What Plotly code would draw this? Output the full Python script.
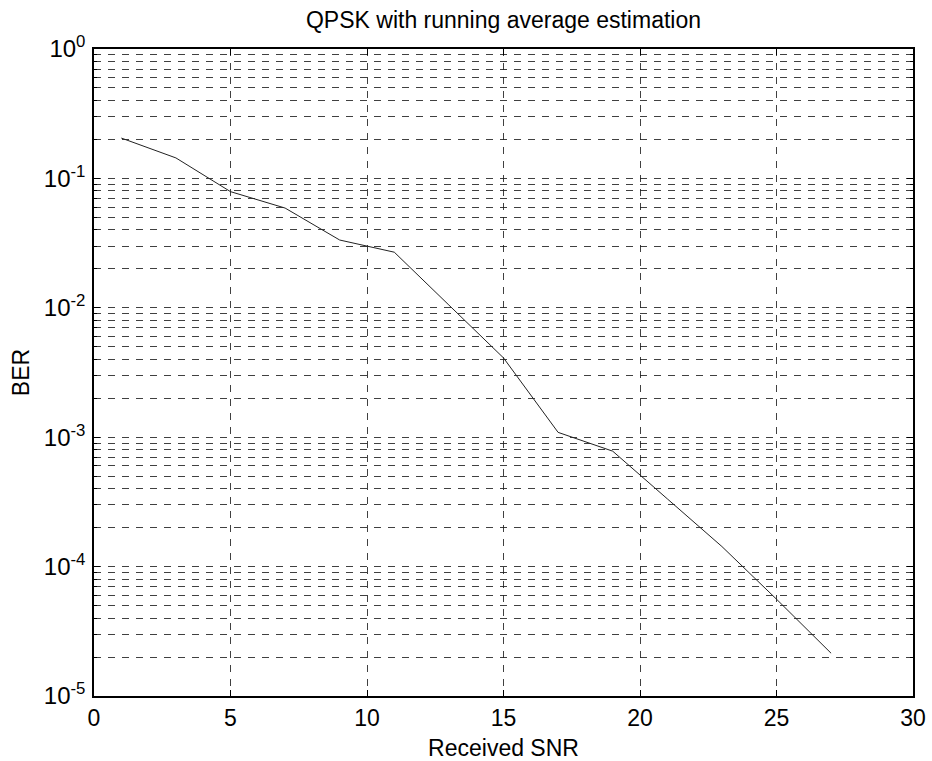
import plotly.graph_objects as go

# Data
snr = [1, 3, 5, 7, 9, 11, 13, 15, 17, 19, 21, 23, 25, 27]
ber = [0.205, 0.144, 0.079, 0.059, 0.0334, 0.0269, 0.0105, 0.0041,
       0.00109, 0.00078, 0.000334, 0.000143, 0.000056, 0.0000214]

x_ticks = [0, 5, 10, 15, 20, 25, 30]
y_exps = [-5, -4, -3, -2, -1, 0]
y_tickvals = [10.0 ** e for e in y_exps]
y_ticktext = ["10<sup>%d</sup>" % e for e in y_exps]
y_minor = [d * 10.0 ** e for e in range(-5, 0) for d in range(2, 10)]

FONT = "Liberation Sans, Arial, sans-serif"
GRID = "rgba(30,30,30,0.85)"
DASH = "7px,7px"

fig = go.Figure()
fig.add_trace(go.Scatter(x=snr, y=ber, mode="lines",
                         line=dict(color="#222222", width=1),
                         showlegend=False))

fig.update_layout(
    width=932, height=761,
    margin=dict(l=94, r=19, t=49, b=65, autoexpand=False),
    paper_bgcolor="white", plot_bgcolor="white",
    font=dict(family=FONT, size=23, color="black"),
    title=dict(text="QPSK with running average estimation",
               x=0.5, xanchor="center", xref="paper",
               y=1, yref="container", yanchor="top", pad=dict(t=12),
               font=dict(family=FONT, size=23, color="black")),
    xaxis=dict(
        range=[0, 30], tickmode="array", tickvals=x_ticks,
        ticks="inside", ticklen=6, tickcolor="black", tickwidth=1,
        showline=True, linecolor="black", linewidth=1.5, mirror="ticks",
        showgrid=True, gridcolor=GRID, gridwidth=1, griddash=DASH,
        zeroline=False, ticklabelstandoff=1, automargin=False,
        tickfont=dict(family=FONT, size=23),
        title=dict(text="Received SNR", font=dict(family=FONT, size=23), standoff=13),
    ),
    yaxis=dict(
        type="log", range=[-5, 0], tickmode="array",
        tickvals=y_tickvals, ticktext=y_ticktext,
        ticks="inside", ticklen=6, tickcolor="black", tickwidth=1,
        showline=True, linecolor="black", linewidth=1.5, mirror="ticks",
        showgrid=True, gridcolor=GRID, gridwidth=1, griddash=DASH,
        zeroline=False, ticklabelstandoff=2, automargin=False,
        tickfont=dict(family=FONT, size=24),
        title=dict(text="BER", font=dict(family=FONT, size=23), standoff=8),
        minor=dict(tickmode="array", tickvals=y_minor, ticks="inside",
                   ticklen=3, tickcolor="black",
                   showgrid=True, gridcolor=GRID, gridwidth=1, griddash=DASH),
    ),
)

fig.write_html("out.html")
